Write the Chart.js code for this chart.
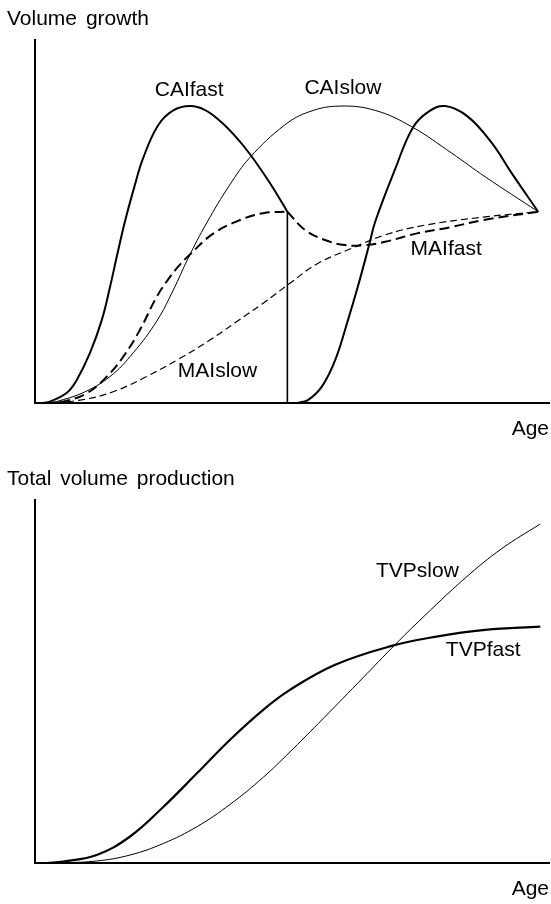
<!DOCTYPE html>
<html>
<head>
<meta charset="utf-8">
<script src="https://cdn.jsdelivr.net/npm/chart.js@4.4.1/dist/chart.umd.min.js"></script>
<style>
  body { margin: 0; background: #fff; }
  #wrap { position: relative; width: 551px; height: 904px; font-family: "Liberation Sans", Arial, sans-serif; }
  canvas { position: absolute; left: 0; }
  .txt { position: absolute; font-size: 21px; line-height: 21px; color: #000; white-space: pre; word-spacing: 3px; }
</style>
</head>
<body>
<div id="wrap">
  <canvas id="growth" width="551" height="450" style="top:0"></canvas>
  <canvas id="production" width="551" height="444" style="top:460px"></canvas>
  <div class="txt" style="left:7px;top:7px">Volume growth</div>
  <div class="txt" style="right:2px;top:417px">Age</div>
  <div class="txt" style="left:7px;top:467px">Total volume production</div>
  <div class="txt" style="right:2px;top:877px">Age</div>
</div>
<script>
// volume growth panel (age 0-100, volume 0-100, arbitrary units)
const caiFastAge = [1.6, 2.9, 6.2, 8.1, 10.7, 13.0, 14.6, 16.0, 17.5, 19.3, 21.0, 23.9, 26.9, 30.2, 33.1, 36.0, 38.9, 41.8, 45.7, 49.1];
const caiFastVol = [0, 0.4, 2.8, 6.3, 13.8, 22.9, 32.0, 40.9, 50.0, 59.4, 67.3, 76.4, 80.6, 81.8, 80.7, 77.7, 73.6, 68.6, 60.6, 52.7];
const caiFast2Age = [49.1, 51.2, 53.1, 55.8, 58.4, 60.9, 62.8, 65.0, 66.2, 70.0, 73.5, 76.5, 79.8, 84.2, 88.9, 92.7, 97.9];
const caiFast2Vol = [0, 0.1, 0.8, 4.5, 11.8, 22.9, 32.0, 43.5, 50.0, 64.2, 75.8, 80.2, 81.8, 78.9, 71.6, 63.4, 52.7];
const caiSlowAge = [2.9, 4.2, 9.3, 14.6, 19.1, 23.7, 26.9, 29.8, 33.4, 37.9, 41.8, 48.6, 53.5, 59.3, 66.2, 73.3, 81.1, 87.6, 97.9];
const caiSlowVol = [0, 0.4, 2.8, 7.3, 13.8, 22.6, 31.1, 39.9, 49.6, 60.1, 67.6, 76.6, 80.3, 81.8, 80.6, 76.1, 68.8, 62.3, 52.7];
const maiFastAge = [2.0, 5.5, 10.1, 14.0, 17.2, 20.4, 23.7, 26.3, 28.2, 30.2, 34.6, 39.9, 44.4, 49.1];
const maiFastVol = [0, 0.4, 2.7, 7.3, 12.8, 20.1, 29.3, 34.8, 38.1, 41.0, 46.6, 50.4, 52.3, 52.7];
const maiFast2Age = [49.1, 52.5, 56.4, 60.3, 64.2, 68.1, 74.5, 80.7, 87.2, 97.9];
const maiFast2Vol = [52.7, 47.7, 44.9, 43.5, 43.5, 44.4, 46.8, 48.4, 50.4, 52.7];
const maiSlowAge = [2.0, 8.8, 15.2, 21.7, 28.2, 34.1, 39.2, 44.4, 49.6, 55.1, 61.6, 68.1, 75.9, 87.2, 97.9];
const maiSlowVol = [0, 0.8, 3.1, 7.3, 12.3, 17.4, 22.4, 27.5, 33.0, 38.5, 42.6, 46.3, 49.0, 51.2, 52.7];
const harvestAge = [49.1, 49.1];
const harvestVol = [0, 52.7];

// total volume production panel
const tvpFastAge = [2.3, 5.5, 12.0, 18.5, 25.0, 31.5, 37.9, 44.4, 49.6, 58.4, 69.4, 77.8, 87.6, 98.3];
const tvpFastVol = [0, 0.4, 2.2, 7.3, 15.5, 24.7, 33.9, 42.2, 47.7, 54.6, 59.8, 62.3, 64.2, 65.1];
const tvpSlowAge = [4.2, 12.0, 18.5, 25.0, 31.5, 37.9, 44.4, 49.6, 55.1, 62.9, 69.4, 74.6, 83.7, 90.8, 98.3];
const tvpSlowVol = [0, 0.55, 2.2, 5.4, 10.0, 16.1, 23.6, 30.6, 38.4, 49.7, 59.2, 66.5, 78.5, 86.6, 93.4];

// curve labels
const growthLabels = ['CAIfast', 'CAIslow', 'MAIfast', 'MAIslow'];
const growthLabelAge = [30.0, 59.9, 80.0, 35.5];
const growthLabelVol = [86.2, 86.8, 42.4, 8.8];
const prodLabels = ['TVPslow', 'TVPfast'];
const prodLabelAge = [74.4, 87.2];
const prodLabelVol = [80.3, 58.7];

function pts(xs, ys) {
    return xs.map((x, i) => ({ x: x, y: ys[i] }));
}

function line(xs, ys, width, dash) {
    return {
        data: pts(xs, ys),
        borderColor: '#000',
        borderWidth: width,
        borderDash: dash || [],
        pointRadius: 0,
        fill: false,
        tension: 0.4,
        clip: { left: 5, top: 5, right: 5, bottom: 0 },
    };
}

function curveLabels(texts, xs, ys) {
    return {
        id: 'curveLabels',
        afterDatasetsDraw(chart) {
            const ctx = chart.ctx;
            ctx.save();
            ctx.fillStyle = '#000';
            ctx.font = '21px "Liberation Sans", Arial, sans-serif';
            ctx.textAlign = 'center';
            ctx.textBaseline = 'middle';
            texts.forEach((t, i) => {
                ctx.fillText(t, chart.scales.x.getPixelForValue(xs[i]), chart.scales.y.getPixelForValue(ys[i]));
            });
            ctx.restore();
        }
    };
}

function axes() {
    return {
        x: {
            type: 'linear', min: 0, max: 100,
            grid: { display: false },
            ticks: { display: false },
            border: { display: true, color: '#000', width: 2 },
            afterFit: (s) => { s.height = 0; },
        },
        y: {
            type: 'linear', min: 0, max: 100,
            grid: { display: false },
            ticks: { display: false },
            border: { display: true, color: '#000', width: 2 },
            afterFit: (s) => { s.width = 0; },
        },
    };
}

const harvest = line(harvestAge, harvestVol, 1.6);
harvest.tension = 0;

new Chart(document.getElementById('growth'), {
    type: 'line',
    data: {
        datasets: [
            line(caiFastAge, caiFastVol, 2),
            line(caiFast2Age, caiFast2Vol, 2),
            line(caiSlowAge, caiSlowVol, 1),
            line(maiFastAge, maiFastVol, 2, [10, 5]),
            line(maiFast2Age, maiFast2Vol, 2, [10, 5]),
            line(maiSlowAge, maiSlowVol, 1.2, [7, 4]),
            harvest,
        ],
    },
    options: {
        responsive: false,
        animation: false,
        layout: { padding: { left: 35, right: 2, top: 40, bottom: 47 } },
        plugins: { legend: { display: false }, tooltip: { enabled: false } },
        scales: axes(),
    },
    plugins: [curveLabels(growthLabels, growthLabelAge, growthLabelVol)],
});

new Chart(document.getElementById('production'), {
    type: 'line',
    data: {
        datasets: [
            line(tvpFastAge, tvpFastVol, 2.2),
            line(tvpSlowAge, tvpSlowVol, 1),
        ],
    },
    options: {
        responsive: false,
        animation: false,
        layout: { padding: { left: 35, right: 2, top: 40, bottom: 41 } },
        plugins: { legend: { display: false }, tooltip: { enabled: false } },
        scales: axes(),
    },
    plugins: [curveLabels(prodLabels, prodLabelAge, prodLabelVol)],
});
</script>
</body>
</html>
